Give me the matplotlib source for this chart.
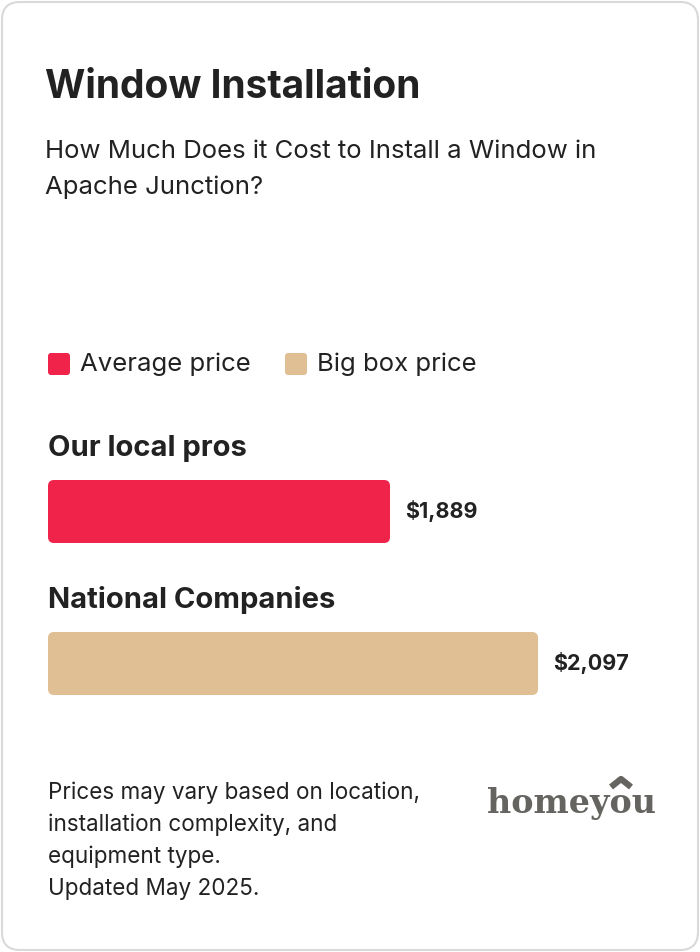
import matplotlib
matplotlib.use("Agg")
import matplotlib.pyplot as plt
from matplotlib.patches import FancyBboxPatch

categories = ["Our local pros", "National Companies"]
values = [1889, 2097]
value_labels = ["$1,889", "$2,097"]
legend_labels = ["Average price", "Big box price"]
colors = ["#f0234a", "#dfbf93"]

plt.rcParams['font.family'] = ['Inter', 'DejaVu Sans']
W, H = 700, 952
fig = plt.figure(figsize=(7, 9.52), dpi=100)
bg = fig.add_axes([0, 0, 1, 1])
bg.set_xlim(0, W); bg.set_ylim(H, 0); bg.axis('off')
bg.add_patch(FancyBboxPatch((2, 2), W - 4, H - 4, boxstyle="round,pad=0,rounding_size=18",
                            fc="white", ec="#d9d9d9", lw=1.5))
tc = "#222222"
bg.text(45, 88, "Window Installation", fontsize=28, fontweight='bold', color=tc, va='center')
bg.text(45, 152, "How Much Does it Cost to Install a Window in", fontsize=18.5, color=tc, va='center')
bg.text(45, 187, "Apache Junction?", fontsize=18.5, color=tc, va='center')
for x, lab, c in [(48, legend_labels[0], colors[0]), (285, legend_labels[1], colors[1])]:
    bg.add_patch(FancyBboxPatch((x, 353), 22, 22, boxstyle="round,pad=0,rounding_size=3", fc=c, ec='none'))
    bg.text(x + 32, 364, lab, fontsize=18.5, color=tc, va='center')
bg.text(48, 448, categories[0], fontsize=21, fontweight='bold', color=tc, va='center')
bg.text(48, 600, categories[1], fontsize=21, fontweight='bold', color=tc, va='center')
foot = ["Prices may vary based on location,", "installation complexity, and", "equipment type.", "Updated May 2025."]
for i, s in enumerate(foot):
    bg.text(48, 793 + i * 32, s, fontsize=16.2, color=tc, va='center')
bg.text(572, 804, "homeyou", fontsize=24, fontweight='bold', family='DejaVu Serif',
        color="#666460", va='center', ha='center')
bg.plot([611, 621, 631], [787, 779, 787], color="#666460", lw=4.5, solid_capstyle='butt')

# bar axes in pixel rows 470..705
ax = fig.add_axes([0, 1 - 705 / H, 1, 235 / H])
ax.axis('off')
b = 0.7115
ax.set_xlim(954 / b, (W + 954) / b)
ax.set_ylim(705, 470)
start = (48 + 954) / b
ys = [511.5, 663.5]
bars = ax.barh(ys, [v - start for v in values], height=63, color=colors, left=start)
fig.canvas.draw()
for r, c in zip(bars, colors):
    ext = r.get_window_extent()
    r.set_visible(False)
    x0, x1 = ext.x0, ext.x1
    ytop, ybot = H - ext.y1, H - ext.y0
    bg.add_patch(FancyBboxPatch((x0, ytop), x1 - x0, ybot - ytop,
                                boxstyle="round,pad=0,rounding_size=6", fc=c, ec='none'))
for y, v, lab in zip(ys, values, value_labels):
    ax.text(v + 21, y, lab, fontsize=15.5, fontweight='bold', color=tc, va='center')
fig.savefig("out.png", dpi=100)
